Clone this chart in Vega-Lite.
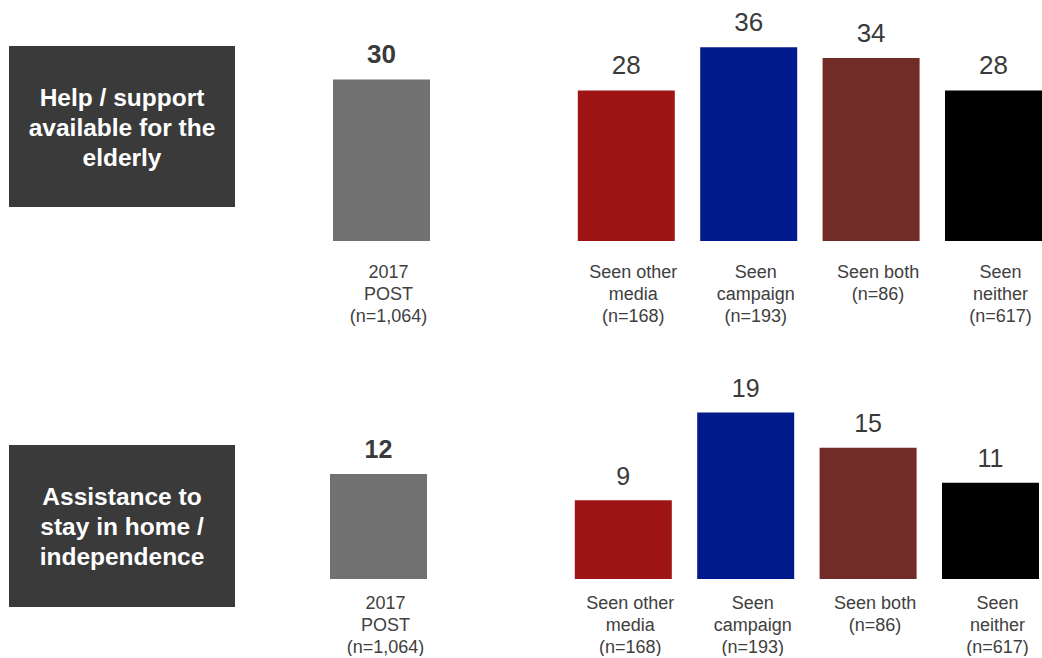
{
  "$schema": "https://vega.github.io/schema/vega-lite/v6.json",
  "padding": {"left": 9, "top": 9, "right": 0, "bottom": 0},
  "background": "#ffffff",
  "config": {"view": {"stroke": null}, "font": "Liberation Sans"},
  "datasets": {
    "topics": [
      {"row": 1, "topic": "Help / support|available for the|elderly"},
      {"row": 2, "topic": "Assistance to|stay in home /|independence"}
    ],
    "scores": [
      {"row": 1, "group": "2017|POST|(n=1,064)", "value": 30},
      {"row": 1, "group": "Seen other|media|(n=168)", "value": 28},
      {"row": 1, "group": "Seen|campaign|(n=193)", "value": 36},
      {"row": 1, "group": "Seen both|(n=86)", "value": 34},
      {"row": 1, "group": "Seen|neither|(n=617)", "value": 28},
      {"row": 2, "group": "2017|POST|(n=1,064)", "value": 12},
      {"row": 2, "group": "Seen other|media|(n=168)", "value": 9},
      {"row": 2, "group": "Seen|campaign|(n=193)", "value": 19},
      {"row": 2, "group": "Seen both|(n=86)", "value": 15},
      {"row": 2, "group": "Seen|neither|(n=617)", "value": 11}
    ]
  },
  "spacing": 51,
  "vconcat": [
    {
      "spacing": 98,
      "hconcat": [
        {
          "width": 226, "height": 161,
          "view": {"fill": "#3a3a3a", "stroke": null},
          "data": {"name": "topics"},
          "transform": [{"filter": "datum.row === 1"}],
          "mark": {"type": "text", "lineBreak": "|", "color": "#ffffff", "fontWeight": "bold", "fontSize": 24.5, "lineHeight": 30, "align": "center", "baseline": "middle", "dy": -28, "font": "Liberation Sans"},
          "encoding": {"text": {"field": "topic", "type": "nominal"}}
        },
        {
          "width": 709, "height": 195,
          "data": {"name": "scores"},
          "transform": [{"filter": "datum.row === 1"}],
          "encoding": {
            "x": {
              "field": "group", "type": "nominal",
              "scale": {"domain": ["2017|POST|(n=1,064)", " ", "Seen other|media|(n=168)", "Seen|campaign|(n=193)", "Seen both|(n=86)", "Seen|neither|(n=617)"], "paddingInner": 0.2075, "paddingOuter": 0},
              "axis": {"title": null, "domain": false, "ticks": false, "tickSize": 0, "labelAngle": 0, "labelFont": "Liberation Sans", "labelFontSize": 18, "labelColor": "#404040", "labelLineHeight": 22, "labelBaseline": "top", "labelPadding": 22.5, "labelOffset": 7, "labelOverlap": false, "labelBound": false, "labelLimit": 300, "labelExpr": "split(datum.label, '|')"}
            }
          },
          "layer": [
            {
              "mark": {"type": "bar"},
              "encoding": {
                "y": {"field": "value", "type": "quantitative", "scale": {"domain": [0, 36.25], "nice": false, "zero": true}, "axis": null},
                "color": {"field": "group", "type": "nominal", "scale": {"domain": ["2017|POST|(n=1,064)", "Seen other|media|(n=168)", "Seen|campaign|(n=193)", "Seen both|(n=86)", "Seen|neither|(n=617)"], "range": ["#717171", "#9f1515", "#001a8c", "#722c27", "#000000"]}, "legend": null}
              }
            },
            {
              "transform": [{"filter": "datum.group === '2017|POST|(n=1,064)'"}],
              "mark": {"type": "text", "fontWeight": "bold", "fontSize": 26, "dy": -17, "baseline": "alphabetic", "color": "#3a3a3a", "font": "Liberation Sans"},
              "encoding": {
                "y": {"field": "value", "type": "quantitative"},
                "text": {"field": "value", "type": "quantitative"}
              }
            },
            {
              "transform": [{"filter": "datum.group !== '2017|POST|(n=1,064)'"}],
              "mark": {"type": "text", "fontSize": 26, "dy": -16.5, "baseline": "alphabetic", "color": "#3a3a3a", "font": "Liberation Sans"},
              "encoding": {
                "y": {"field": "value", "type": "quantitative"},
                "text": {"field": "value", "type": "quantitative"}
              }
            }
          ]
        }
      ]
    },
    {
      "spacing": 95,
      "hconcat": [
        {
          "width": 226, "height": 162,
          "view": {"fill": "#3a3a3a", "stroke": null},
          "data": {"name": "topics"},
          "transform": [{"filter": "datum.row === 2"}],
          "mark": {"type": "text", "lineBreak": "|", "color": "#ffffff", "fontWeight": "bold", "fontSize": 24.5, "lineHeight": 30, "align": "center", "baseline": "middle", "dy": -28, "font": "Liberation Sans"},
          "encoding": {"text": {"field": "topic", "type": "nominal"}}
        },
        {
          "width": 709, "height": 134,
          "data": {"name": "scores"},
          "transform": [{"filter": "datum.row === 2"}],
          "encoding": {
            "x": {
              "field": "group", "type": "nominal",
              "scale": {"domain": ["2017|POST|(n=1,064)", " ", "Seen other|media|(n=168)", "Seen|campaign|(n=193)", "Seen both|(n=86)", "Seen|neither|(n=617)"], "paddingInner": 0.2075, "paddingOuter": 0},
              "axis": {"title": null, "domain": false, "ticks": false, "tickSize": 0, "labelAngle": 0, "labelFont": "Liberation Sans", "labelFontSize": 18, "labelColor": "#404040", "labelLineHeight": 22, "labelBaseline": "top", "labelPadding": 15, "labelOffset": 7, "labelOverlap": false, "labelBound": false, "labelLimit": 300, "labelExpr": "split(datum.label, '|')"}
            }
          },
          "layer": [
            {
              "mark": {"type": "bar"},
              "encoding": {
                "y": {"field": "value", "type": "quantitative", "scale": {"domain": [0, 15.3], "nice": false, "zero": true}, "axis": null},
                "color": {"field": "group", "type": "nominal", "scale": {"domain": ["2017|POST|(n=1,064)", "Seen other|media|(n=168)", "Seen|campaign|(n=193)", "Seen both|(n=86)", "Seen|neither|(n=617)"], "range": ["#717171", "#9f1515", "#001a8c", "#722c27", "#000000"]}, "legend": null}
              }
            },
            {
              "transform": [{"filter": "datum.group === '2017|POST|(n=1,064)'"}],
              "mark": {"type": "text", "fontWeight": "bold", "fontSize": 25, "dy": -15.5, "baseline": "alphabetic", "color": "#3a3a3a", "font": "Liberation Sans"},
              "encoding": {
                "y": {"field": "value", "type": "quantitative"},
                "text": {"field": "value", "type": "quantitative"}
              }
            },
            {
              "transform": [{"filter": "datum.group !== '2017|POST|(n=1,064)'"}],
              "mark": {"type": "text", "fontSize": 25, "dy": -15.5, "baseline": "alphabetic", "color": "#3a3a3a", "font": "Liberation Sans"},
              "encoding": {
                "y": {"field": "value", "type": "quantitative"},
                "text": {"field": "value", "type": "quantitative"}
              }
            }
          ]
        }
      ]
    }
  ]
}
